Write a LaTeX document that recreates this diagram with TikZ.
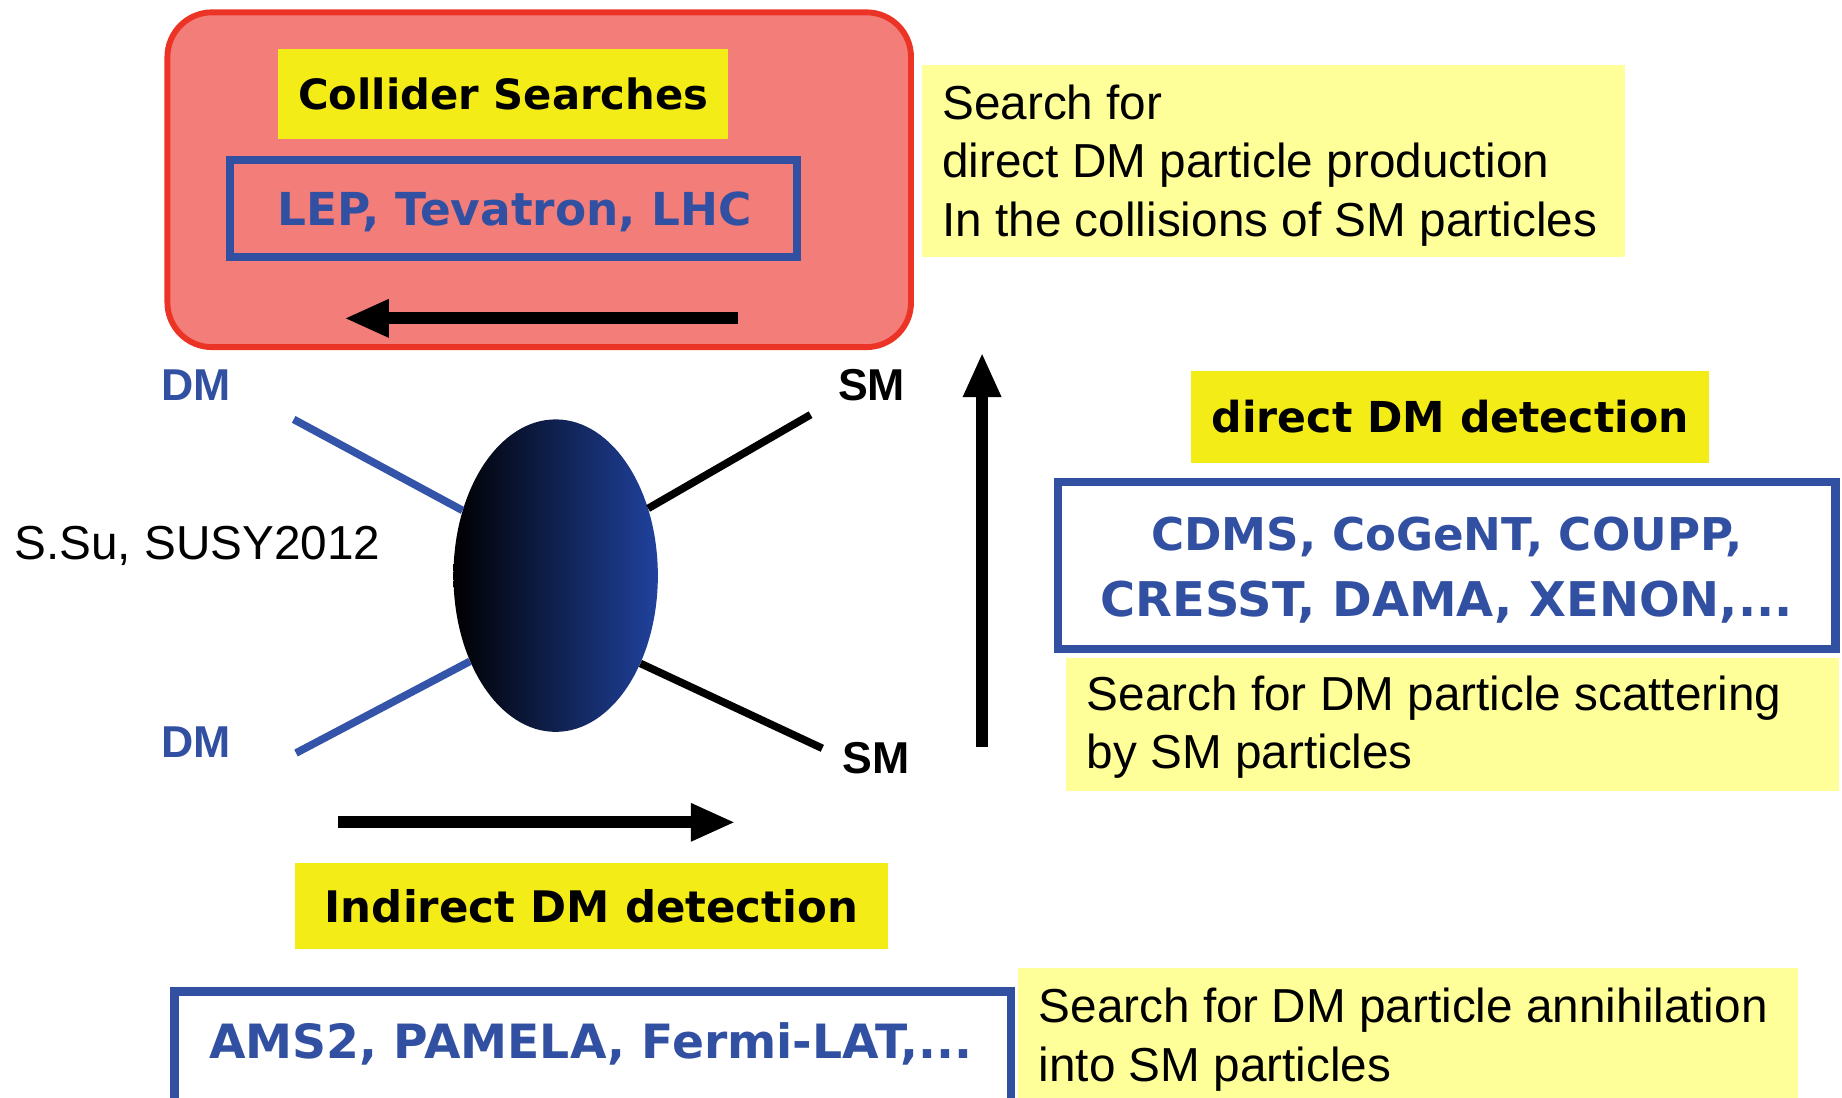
\documentclass[tikz,border=0pt]{standalone}
\usepackage{graphicx}
\usepackage{fontspec}
\setmainfont{Liberation Sans}
\newfontfamily\comic{DejaVu Sans}
\usetikzlibrary{arrows.meta,shapes.geometric}

\definecolor{boxred}{RGB}{242,125,121}
\definecolor{edgered}{RGB}{236,52,38}
\definecolor{hiyellow}{RGB}{244,236,22}
\definecolor{paleyellow}{RGB}{255,255,153}
\definecolor{expblue}{RGB}{50,80,162}
\definecolor{legblue}{RGB}{52,84,170}
\definecolor{blobmid}{RGB}{30,36,110}
\definecolor{blobblue}{RGB}{32,66,158}

\tikzset{
  tag/.style={fill=hiyellow, inner sep=0pt,
    font=\comic\bfseries\fontsize{35}{40}\selectfont},
  expbox/.style={draw=expblue, line width=7pt, inner sep=0pt},
  exptext/.style={text=expblue, inner sep=0pt, align=center,
    font=\comic\bfseries\fontsize{40}{56}\selectfont},
  note/.style={fill=paleyellow, inner sep=0pt},
  notetext/.style={anchor=west, inner sep=0pt, align=left,
    font=\fontsize{40.6}{50}\selectfont},
  flow/.style={line width=10pt, -{Triangle[length=38pt,width=30pt]}},
  dmleg/.style={line width=6.5pt, draw=legblue},
  smleg/.style={line width=6.5pt, draw=black},
  plabel/.style={inner sep=0pt, font=\bfseries\fontsize{38}{40}\selectfont},
}

\begin{document}
\begin{tikzpicture}[x=1pt,y=-1pt]
\useasboundingbox (0,0) rectangle (1568,934);
\clip (0,0) rectangle (1568,934);

% collider searches panel
\node[draw=edgered, fill=boxred, line width=5pt, rounded corners=38pt,
      minimum width=633pt, minimum height=285pt, inner sep=0pt] (collider) at (459,153) {};
\node[tag, minimum width=383pt, minimum height=76pt] (coltag) at (428.5,80)
  {\resizebox{349pt}{!}{Collider Searches}};
\node[expbox, minimum width=483pt, minimum height=82pt] (colexp) at (437,177.5) {};
\node[exptext] (colnames) at (438,180) {\resizebox{404pt}{!}{LEP, Tevatron, LHC}};
\coordinate (colS) at (628,271);
\coordinate (colE) at (293,271);
\draw[flow] (colS) -- (colE);

% note on collider searches
\node[note, minimum width=598pt, minimum height=164pt] (colnote) at (1084,137) {};
\node[notetext] (coltext) at (802,141)
  {Search for\\direct DM particle production\\In the collisions of SM particles};

% annihilation blob with external legs
\node[ellipse, minimum width=174pt, minimum height=266pt, inner sep=0pt,
      left color=black, middle color=blobmid, right color=blobblue] (blob) at (473,490) {};
\coordinate (dmA) at (250,357);
\coordinate (smA) at (690,353);
\coordinate (dmB) at (252,641);
\coordinate (smB) at (700,637);
\draw[dmleg] (dmA) -- (blob.145);
\draw[smleg] (smA) -- (blob.36);
\draw[dmleg] (dmB) -- (blob.225);
\draw[smleg] (smB) -- (blob.314);

\node[plabel, text=expblue] (dmAl) at (167,328) {DM};
\node[plabel] (smAl) at (742,328) {SM};
\node[plabel, text=expblue] (dmBl) at (167,632) {DM};
\node[plabel] (smBl) at (746,645) {SM};

\node[anchor=west, inner sep=0pt, font=\fontsize{40.6}{50}\selectfont] (credit) at (12,465)
  {S.Su, SUSY2012};

% direct detection
\coordinate (dirS) at (836,636);
\coordinate (dirE) at (836,300);
\draw[flow] (dirS) -- (dirE);
\node[tag, minimum width=441pt, minimum height=78pt] (dirtag) at (1234.5,355)
  {\resizebox{406pt}{!}{direct DM detection}};
\node[note, minimum width=658pt, minimum height=113pt] (dirnote) at (1236,616.5) {};
\node[notetext] (dirtext) at (925,619)
  {Search for DM particle scattering\\by SM particles};
\node[expbox, fill=white, minimum width=662pt, minimum height=142pt] (direxp) at (1231.5,481.5) {};
\node[exptext] (dirnames) at (1231.5,485)
  {\resizebox{503pt}{!}{CDMS, CoGeNT, COUPP,}\\\resizebox{589pt}{!}{CRESST, DAMA, XENON,...}};

% indirect detection
\coordinate (indS) at (288,700);
\coordinate (indE) at (626,700);
\draw[flow] (indS) -- (indE);
\node[tag, minimum width=505pt, minimum height=73pt] (indtag) at (503.5,771.5)
  {\resizebox{454pt}{!}{Indirect DM detection}};
\node[expbox, fill=white, anchor=north, minimum width=712pt, minimum height=130pt] (indexp) at (504.5,840.5) {};
\node[exptext] (indnames) at (503,889) {\resizebox{650pt}{!}{AMS2, PAMELA, Fermi-LAT,...}};
\node[note, anchor=north west, minimum width=664pt, minimum height=130pt] (indnote) at (866,824) {};
\node[notetext] (indtext) at (884,885)
  {Search for DM particle annihilation\\into SM particles};
\end{tikzpicture}
\end{document}
